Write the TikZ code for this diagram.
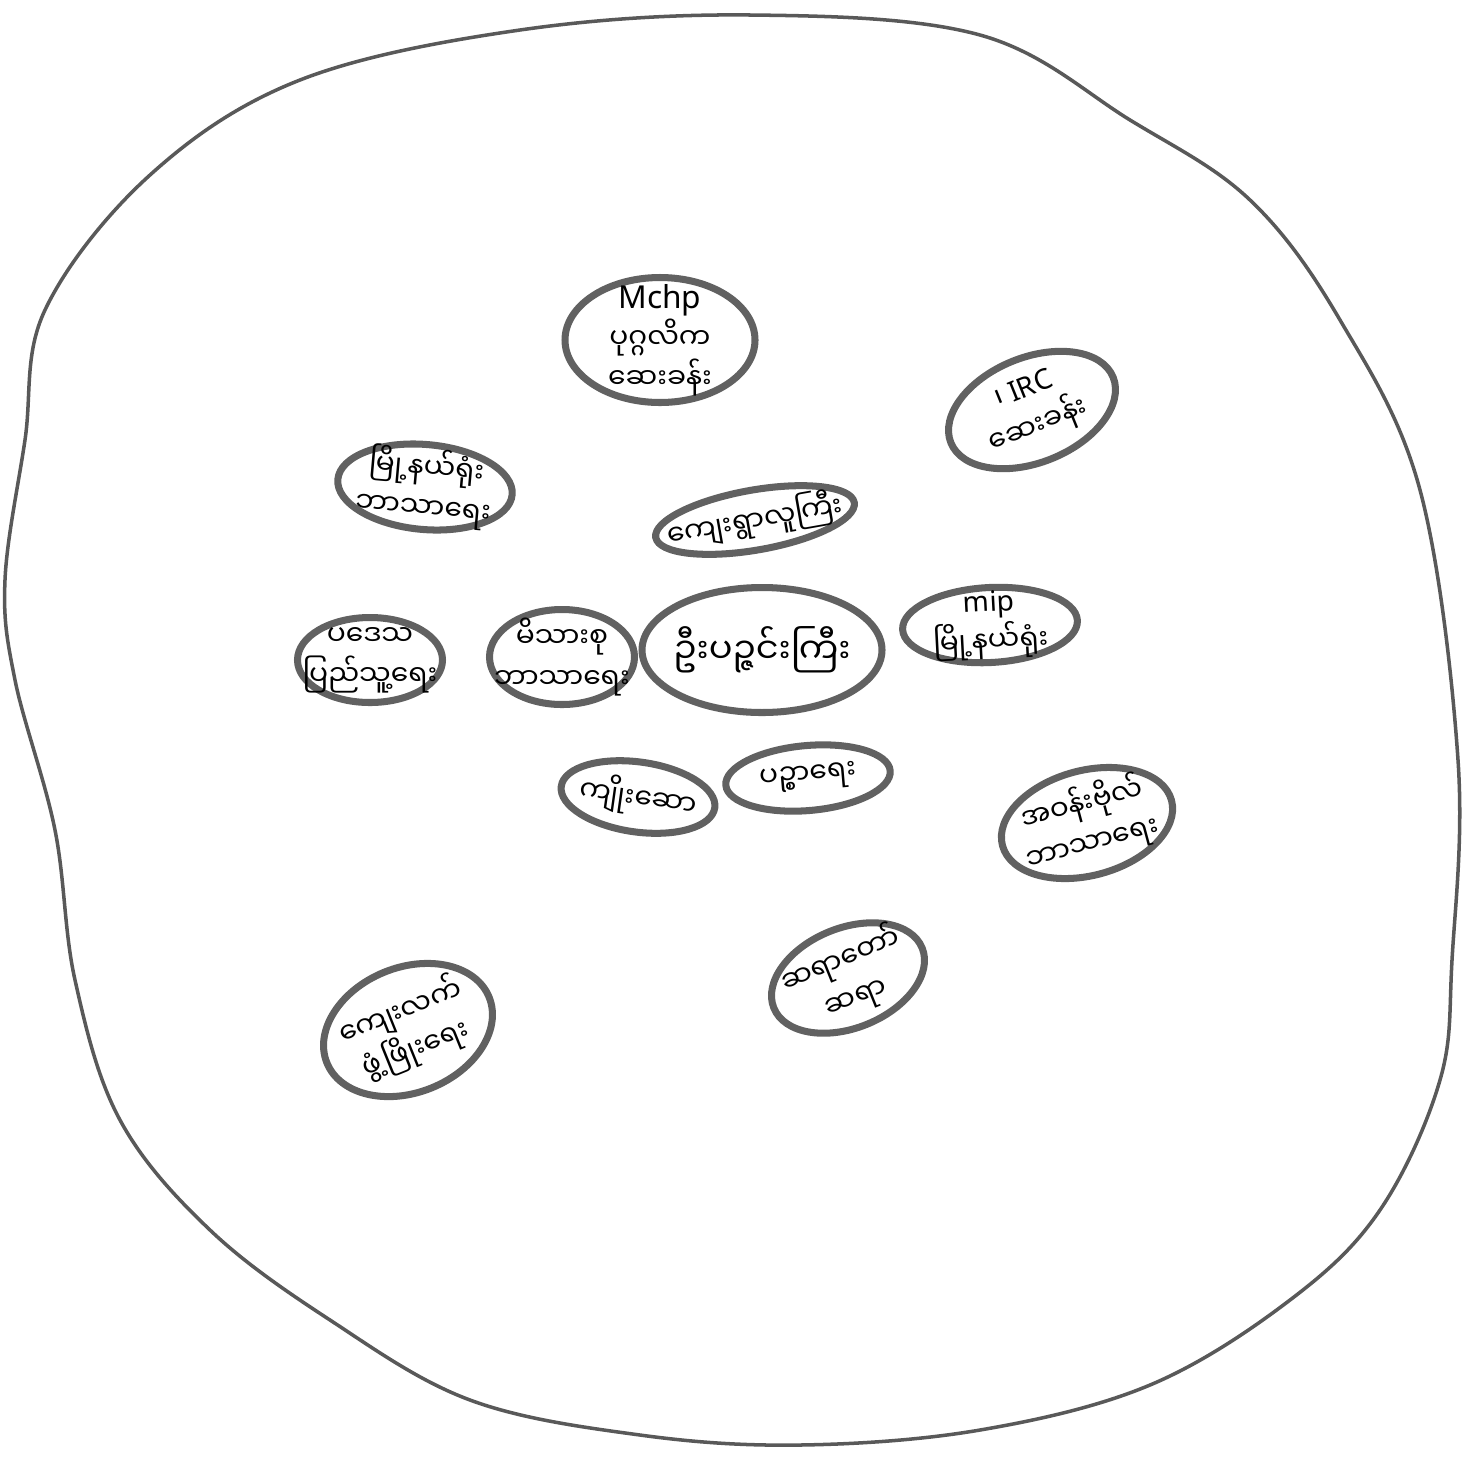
\documentclass[tikz,border=0pt]{standalone}
\usepackage{fontspec}
\setmainfont{Noto Sans}
\newfontfamily\mmfont[Script=Myanmar]{Noto Sans Myanmar UI}
\newcommand{\my}[1]{{\mmfont #1}}
\usepackage{tikz}
\usetikzlibrary{shapes.geometric, positioning}

\begin{document}
\begin{tikzpicture}[
    bub/.style={ellipse, draw=black!62, line width=2pt, inner xsep=-5pt,
                inner ysep=-5pt, align=center,
                font=\footnotesize\linespread{1.2}\selectfont},
    rim/.style={draw=black!65, line width=1pt}
  ]
  \useasboundingbox (0,0) rectangle (14.81,-14.57);
  % outer boundary
  \draw[rim] plot[smooth cycle, tension=0.6] coordinates {
      (0.45,-3.1) (1.5,-1.75) (3.0,-0.8) (5.2,-0.3) (7.5,-0.15) (9.8,-0.35)
      (11.3,-1.2) (12.5,-2.0) (13.4,-3.2) (14.2,-4.9) (14.58,-7.6)
      (14.52,-9.6) (14.4,-10.8) (13.8,-12.1) (12.9,-13.0) (11.5,-13.85)
      (9.8,-14.3) (8.0,-14.45) (6.4,-14.35) (4.7,-14.0) (3.3,-13.2)
      (2.1,-12.3) (1.2,-11.2) (0.75,-9.8) (0.55,-8.3) (0.15,-6.8)
      (0.05,-5.8) (0.25,-4.4)};
  % ovals
  \node[bub, minimum width=1.9cm, minimum height=1.25cm] (mchp) at (6.6,-3.4)
      {\small Mchp\\\my{ပုဂ္ဂလိက}\\\my{ဆေးခန်း}};
  \node[bub, minimum width=1.75cm, minimum height=1.05cm, rotate=22] (irc) at (10.32,-4.1)
      {\my{၊} IRC\\\my{ဆေးခန်း}};
  \node[bub, minimum width=1.75cm, minimum height=0.85cm, rotate=-5] (myone) at (4.25,-4.87)
      {\my{မြို့နယ်ရုံး}\\\my{ဘာသာရေး}};
  \node[bub, minimum width=1.7cm, minimum height=0.6cm, rotate=10] (village) at (7.55,-5.2)
      {\my{ကျေးရွာလူကြီး}};
  \node[bub, minimum width=1.45cm, minimum height=0.85cm] (pade) at (3.7,-6.6)
      {\my{ပဒေသ}\\\my{ပြည်သူ့ရေး}};
  \node[bub, minimum width=1.45cm, minimum height=0.95cm] (family) at (5.62,-6.57)
      {\my{မိသားစု}\\\my{ဘာသာရေး}};
  \node[bub, minimum width=2.4cm, minimum height=1.25cm, font=\normalsize] (monk) at (7.62,-6.5)
      {\my{ဦးပဉ္ဇင်းကြီး}};
  \node[bub, minimum width=1.75cm, minimum height=0.75cm, rotate=3] (mip) at (9.9,-6.25)
      {mip\\\my{မြို့နယ်ရုံး}};
  \node[bub, minimum width=1.55cm, minimum height=0.7cm, rotate=-8] (kyo) at (6.38,-7.97)
      {\my{ကျိုးဆော}};
  \node[bub, minimum width=1.65cm, minimum height=0.65cm, rotate=5] (pyin) at (8.08,-7.78)
      {\my{ပဉ္စာရေး}};
  \node[bub, minimum width=1.75cm, minimum height=1.05cm, rotate=15] (bo) at (10.87,-8.23)
      {\my{အဝန်းဗိုလ်}\\\my{ဘာသာရေး}};
  \node[bub, minimum width=1.6cm, minimum height=1.0cm, rotate=22] (sayadaw) at (8.48,-9.78)
      {\my{ဆရာတော်}\\\my{ဆရာ}};
  \node[bub, minimum width=1.75cm, minimum height=1.25cm, rotate=22] (rural) at (4.08,-10.3)
      {\my{ကျေးလက်}\\\my{ဖွံ့ဖြိုးရေး}};
\end{tikzpicture}
\end{document}
